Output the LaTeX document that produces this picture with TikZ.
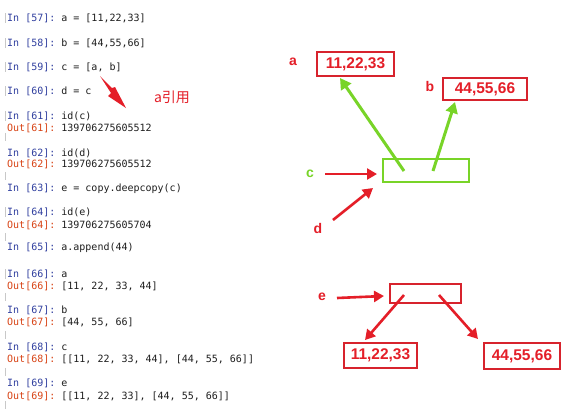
\documentclass[tikz,border=0pt]{standalone}
\usepackage{fontspec}
\setmonofont{DejaVu Sans Mono}
\setsansfont{Liberation Sans}
\newfontfamily\cjk{Noto Sans CJK SC}
\usetikzlibrary{arrows.meta}
\definecolor{inblue}{RGB}{48,63,159}
\definecolor{outred}{RGB}{216,67,21}
\definecolor{codeblack}{RGB}{30,30,30}
\definecolor{myred}{RGB}{228,30,40}
\definecolor{boxred}{RGB}{215,35,45}
\definecolor{mygreen}{RGB}{120,212,40}
\definecolor{tick}{RGB}{200,200,200}
\newcommand\inp[1]{\textcolor{inblue}{In [#1]:} }
\newcommand\outp[1]{\textcolor{outred}{Out[#1]:} }
\tikzset{
  code/.style={anchor=west, inner sep=0pt, font=\ttfamily\fontsize{10}{12}\selectfont, text=codeblack},
  lbl/.style={inner sep=0pt, font=\sffamily\bfseries\fontsize{14}{16}\selectfont, text=myred},
  valbox/.style={draw=boxred, line width=1.4pt, inner sep=0pt, font=\sffamily\bfseries\fontsize{15.5}{18}\selectfont, text=myred},
  redarr/.style={draw=myred, line width=2.6pt, -{Triangle[length=10pt,width=11pt]}},
  greenarr/.style={draw=mygreen, line width=3pt, -{Triangle[length=11pt,width=12pt]}},
  ticks/.style={draw=tick, line width=0.6pt}
}
\begin{document}
\begin{tikzpicture}[x=1pt,y=-1pt]
\useasboundingbox[fill=white] (0,0) rectangle (579,408);
% code cells
\node[code] (l57) at (7,18) {\inp{57}a = [11,22,33]};
\node[code] (l58) at (7,43) {\inp{58}b = [44,55,66]};
\node[code] (l59) at (7,67) {\inp{59}c = [a, b]};
\node[code] (l60) at (7,91) {\inp{60}d = c};
\node[code] (l61) at (7,116) {\inp{61}id(c)};
\node[code] (o61) at (7,128) {\outp{61}139706275605512};
\node[code] (l62) at (7,153) {\inp{62}id(d)};
\node[code] (o62) at (7,164) {\outp{62}139706275605512};
\node[code] (l63) at (7,189) {\inp{63}e = copy.deepcopy(c)};
\node[code] (l64) at (7,212) {\inp{64}id(e)};
\node[code] (o64) at (7,225) {\outp{64}139706275605704};
\node[code] (l65) at (7,248) {\inp{65}a.append(44)};
\node[code] (l66) at (7,274) {\inp{66}a};
\node[code] (o66) at (7,286) {\outp{66}[11, 22, 33, 44]};
\node[code] (l67) at (7,310) {\inp{67}b};
\node[code] (o67) at (7,322) {\outp{67}[44, 55, 66]};
\node[code] (l68) at (7,347) {\inp{68}c};
\node[code] (o68) at (7,359) {\outp{68}[[11, 22, 33, 44], [44, 55, 66]]};
\node[code] (l69) at (7,383) {\inp{69}e};
\node[code] (o69) at (7,396) {\outp{69}[[11, 22, 33], [44, 55, 66]]};
% faint cell ticks
\foreach \y in {18,43,67,91,116,212,274}{\draw[ticks] (5,\y-5) -- (5,\y+5);}
\foreach \y in {137,176,237,297,335,372,405}{\draw[ticks] (5,\y-4) -- (5,\y+4);}
% annotation arrow (tapered)
\coordinate (aref0) at (100,76);
\coordinate (aref1) at (126,108);
\fill[myred] (aref0) -- (112,88) -- (115,87) -- (aref1) -- (108,96) -- (111,93) -- cycle;
\node[inner sep=0pt, text=myred, font=\cjk\fontsize{14}{16}\selectfont] (aref) at (172,97) {a引用};
% upper diagram
\node[valbox, minimum width=77pt, minimum height=24pt] (boxA) at (355.5,64) {11,22,33};
\node[valbox, minimum width=84pt, minimum height=22pt] (boxB) at (485,89) {44,55,66};
\node[draw=mygreen, line width=1.8pt, minimum width=86pt, minimum height=23pt, inner sep=0pt] (cbox) at (426,170.5) {};
\node[lbl] (la) at (293,62) {a};
\node[lbl] (lb) at (430,86) {b};
\node[lbl, text=mygreen] (lc) at (310,174) {c};
\node[lbl] (ld) at (318,228) {d};
\coordinate (ca) at (404,171);
\coordinate (cb) at (433,171);
\coordinate (ta) at (340,78);
\coordinate (tb) at (455,102);
\draw[greenarr] (ca) -- (ta);
\draw[greenarr] (cb) -- (tb);
\coordinate (cs) at (325,174);
\coordinate (ce) at (377,174);
\draw[redarr] (cs) -- (ce);
\coordinate (ds) at (333,220);
\coordinate (de) at (373,188);
\draw[redarr] (ds) -- (de);
% lower diagram
\node[draw=boxred, line width=1.6pt, minimum width=71pt, minimum height=19pt, inner sep=0pt] (ebox) at (425.5,293.5) {};
\node[lbl] (le) at (322,297) {e};
\coordinate (es) at (337,298);
\coordinate (ee) at (384,296);
\draw[redarr] (es) -- (ee);
\node[valbox, minimum width=73pt, minimum height=25pt] (boxL) at (380.5,355.5) {11,22,33};
\node[valbox, minimum width=76pt, minimum height=26pt] (boxR) at (522,356) {44,55,66};
\coordinate (el) at (404,295);
\coordinate (er) at (439,295);
\coordinate (tl) at (365,340);
\coordinate (tr) at (478,339);
\draw[redarr] (el) -- (tl);
\draw[redarr] (er) -- (tr);
\end{tikzpicture}
\end{document}
